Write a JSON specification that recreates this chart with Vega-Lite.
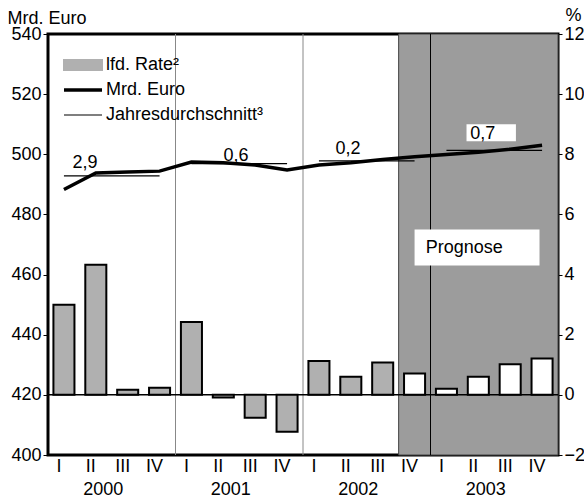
{
  "$schema": "https://vega.github.io/schema/vega-lite/v6.json",
  "width": 510,
  "height": 421,
  "autosize": "none",
  "padding": {"left": 48, "top": 34, "right": 26, "bottom": 43},
  "background": "white",
  "datasets": {
    "quarters": [
      {"q": "2000-I", "rate": 3.0, "mrd": 488.3, "prog": false},
      {"q": "2000-II", "rate": 4.33, "mrd": 493.8, "prog": false},
      {"q": "2000-III", "rate": 0.17, "mrd": 494.1, "prog": false},
      {"q": "2000-IV", "rate": 0.24, "mrd": 494.4, "prog": false},
      {"q": "2001-I", "rate": 2.42, "mrd": 497.4, "prog": false},
      {"q": "2001-II", "rate": -0.09, "mrd": 497.2, "prog": false},
      {"q": "2001-III", "rate": -0.76, "mrd": 496.4, "prog": false},
      {"q": "2001-IV", "rate": -1.23, "mrd": 494.8, "prog": false},
      {"q": "2002-I", "rate": 1.13, "mrd": 496.4, "prog": false},
      {"q": "2002-II", "rate": 0.6, "mrd": 497.2, "prog": false},
      {"q": "2002-III", "rate": 1.08, "mrd": 498.3, "prog": false},
      {"q": "2002-IV", "rate": 0.71, "mrd": 499.2, "prog": true},
      {"q": "2003-I", "rate": 0.2, "mrd": 499.9, "prog": true},
      {"q": "2003-II", "rate": 0.6, "mrd": 500.7, "prog": true},
      {"q": "2003-III", "rate": 1.02, "mrd": 501.7, "prog": true},
      {"q": "2003-IV", "rate": 1.21, "mrd": 503.0, "prog": true}
    ],
    "avg": [
      {"year": 2000, "start": "2000-I", "end": "2000-IV", "avg": 492.8, "label": "2,9"},
      {"year": 2001, "start": "2001-I", "end": "2001-IV", "avg": 496.9, "label": "0,6"},
      {"year": 2002, "start": "2002-I", "end": "2002-IV", "avg": 497.8, "label": "0,2"},
      {"year": 2003, "start": "2003-I", "end": "2003-IV", "avg": 501.3, "label": "0,7"}
    ]
  },
  "layer": [
    {
      "data": {"values": [{"from": "2002-IV", "to": "2003-IV", "lo": 400, "hi": 540}]},
      "mark": {"type": "rect", "color": "#9c9c9c", "stroke": "#444", "strokeWidth": 1},
      "encoding": {
        "x": {"field": "from", "type": "ordinal", "bandPosition": 0, "axis": null,
          "scale": {"type": "band", "paddingInner": 0, "paddingOuter": 0,
            "domain": ["2000-I","2000-II","2000-III","2000-IV","2001-I","2001-II","2001-III","2001-IV","2002-I","2002-II","2002-III","2002-IV","2003-I","2003-II","2003-III","2003-IV"]}},
        "x2": {"field": "to", "bandPosition": 1},
        "y": {"field": "lo", "type": "quantitative", "axis": null, "scale": {"domain": [400, 540], "nice": false, "zero": false}},
        "y2": {"field": "hi"}
      }
    },
    {
      "data": {"values": [{"q": "2001-I"}, {"q": "2002-I"}, {"q": "2003-I"}]},
      "mark": {"type": "rule", "strokeWidth": 1},
      "encoding": {
        "x": {"field": "q", "type": "ordinal", "bandPosition": 0, "axis": null},
        "color": {"condition": {"test": "datum.q === '2003-I'", "value": "black"}, "value": "#888"}
      }
    },
    {
      "data": {"values": [{"base": 420}]},
      "mark": {"type": "rule", "color": "black", "strokeWidth": 1.5},
      "encoding": {"y": {"field": "base", "type": "quantitative", "axis": null, "scale": {"domain": [400, 540], "nice": false, "zero": false}}}
    },
    {
      "data": {"values": [{"left": "2002-IV", "right": "2003-IV", "lo": 463, "hi": 475}]},
      "mark": {"type": "rect", "color": "white"},
      "encoding": {
        "x": {"field": "left", "type": "ordinal", "bandPosition": 0.5, "axis": null},
        "x2": {"field": "right", "bandPosition": 0.42},
        "y": {"field": "lo", "type": "quantitative", "axis": null, "scale": {"domain": [400, 540], "nice": false, "zero": false}},
        "y2": {"field": "hi"}
      }
    },
    {
      "data": {"values": [{"from": "2002-IV", "mid": 469, "text": "Prognose"}]},
      "mark": {"type": "text", "align": "left", "baseline": "middle", "fontSize": 18, "color": "black"},
      "encoding": {
        "x": {"field": "from", "type": "ordinal", "bandPosition": 0.85, "axis": null},
        "y": {"field": "mid", "type": "quantitative", "axis": null, "scale": {"domain": [400, 540], "nice": false, "zero": false}},
        "text": {"field": "text"}
      }
    },
    {
      "data": {"values": [{"b0": "2003-II", "bl": 504.3, "bh": 510}]},
      "mark": {"type": "rect", "color": "white"},
      "encoding": {
        "x": {"field": "b0", "type": "ordinal", "bandPosition": 0.13, "axis": null},
        "x2": {"field": "b0", "bandPosition": 1.68},
        "y": {"field": "bl", "type": "quantitative", "axis": null, "scale": {"domain": [400, 540], "nice": false, "zero": false}},
        "y2": {"field": "bh"}
      }
    },
    {
      "data": {"name": "avg"},
      "mark": {"type": "rule", "strokeWidth": 1.3},
      "encoding": {
        "x": {"field": "start", "type": "ordinal", "bandPosition": 0.5, "axis": null},
        "x2": {"field": "end", "bandPosition": 0.5},
        "y": {"field": "avg", "type": "quantitative", "axis": null, "scale": {"domain": [400, 540], "nice": false, "zero": false}},
        "color": {"datum": "Jahresdurchschnitt³", "type": "nominal"}
      }
    },
    {
      "data": {"name": "quarters"},
      "mark": {"type": "line", "strokeWidth": 3.5},
      "encoding": {
        "x": {"field": "q", "type": "ordinal",
          "axis": {"orient": "bottom", "labelExpr": "split(datum.value, '-')[1]", "ticks": false, "domain": false, "labelPadding": 2, "labelOffset": -5, "labelAngle": 0, "title": null}},
        "y": {"field": "mrd", "type": "quantitative", "scale": {"domain": [400, 540], "nice": false, "zero": false},
          "axis": {"orient": "left", "values": [400, 420, 440, 460, 480, 500, 520, 540], "tickSize": 5, "labelPadding": 2,
            "title": "Mrd. Euro", "titleAngle": 0, "titleAlign": "left", "titleBaseline": "alphabetic", "titleX": -41, "titleY": -11}},
        "color": {"datum": "Mrd. Euro", "type": "nominal",
          "scale": {"domain": ["lfd. Rate²", "Mrd. Euro", "Jahresdurchschnitt³"], "range": ["#b0b0b0", "black", "black"]},
          "legend": {
            "orient": "none", "legendX": 26, "legendY": 22, "title": null, "padding": 0,
            "symbolSize": 400, "labelOffset": 14, "labelFontSize": 18, "labelColor": "black", "rowPadding": 7, "labelLimit": 300,
            "symbolType": {"expr": "datum.value === 'lfd. Rate²' ? 'M-1.9,-0.5H1.9V0.5H-1.9Z' : 'M-1.9,0H1.9'"},
            "symbolFillColor": {"expr": "datum.value === 'lfd. Rate²' ? '#b0b0b0' : 'transparent'"},
            "symbolStrokeColor": "black",
            "symbolStrokeWidth": {"expr": "datum.value === 'Mrd. Euro' ? 3.5 : (datum.value === 'lfd. Rate²' ? 2 : 1.2)"},
            "symbolOpacity": 1
          }
        }
      }
    },
    {
      "data": {"name": "avg"},
      "transform": [{"filter": "datum.year === 2000"}],
      "mark": {"type": "text", "fontSize": 18, "baseline": "middle", "align": "center", "dx": 21, "dy": -12.6, "color": "black"},
      "encoding": {
        "x": {"field": "start", "type": "ordinal", "axis": null},
        "y": {"field": "avg", "type": "quantitative", "axis": null, "scale": {"domain": [400, 540], "nice": false, "zero": false}},
        "text": {"field": "label"}
      }
    },
    {
      "data": {"name": "avg"},
      "transform": [{"filter": "datum.year === 2001"}],
      "mark": {"type": "text", "fontSize": 18, "baseline": "middle", "align": "center", "dx": 44.6, "dy": -7.6, "color": "black"},
      "encoding": {
        "x": {"field": "start", "type": "ordinal", "axis": null},
        "y": {"field": "avg", "type": "quantitative", "axis": null, "scale": {"domain": [400, 540], "nice": false, "zero": false}},
        "text": {"field": "label"}
      }
    },
    {
      "data": {"name": "avg"},
      "transform": [{"filter": "datum.year === 2002"}],
      "mark": {"type": "text", "fontSize": 18, "baseline": "middle", "align": "center", "dx": 29, "dy": -12.3, "color": "black"},
      "encoding": {
        "x": {"field": "start", "type": "ordinal", "axis": null},
        "y": {"field": "avg", "type": "quantitative", "axis": null, "scale": {"domain": [400, 540], "nice": false, "zero": false}},
        "text": {"field": "label"}
      }
    },
    {
      "data": {"name": "avg"},
      "transform": [{"filter": "datum.year === 2003"}],
      "mark": {"type": "text", "fontSize": 18, "baseline": "middle", "align": "center", "dx": 36.4, "dy": -16, "color": "black"},
      "encoding": {
        "x": {"field": "start", "type": "ordinal", "axis": null},
        "y": {"field": "avg", "type": "quantitative", "axis": null, "scale": {"domain": [400, 540], "nice": false, "zero": false}},
        "text": {"field": "label"}
      }
    },
    {
      "data": {"name": "quarters"},
      "mark": {"type": "bar", "stroke": "black", "strokeWidth": 2, "width": {"band": 0.66}},
      "encoding": {
        "x": {"field": "q", "type": "ordinal",
          "axis": {"orient": "bottom", "values": ["2000-II", "2001-II", "2002-II", "2003-II"], "labelExpr": "slice(datum.value, 0, 4)",
            "labelOffset": 7.5, "labelPadding": 25, "ticks": false, "domain": false, "labelAngle": 0, "title": null}},
        "y": {"field": "rate", "type": "quantitative",
          "scale": {"domain": [-2, 12], "nice": false},
          "axis": {"orient": "right", "values": [-2, 0, 2, 4, 6, 8, 10, 12], "tickSize": 4, "labelPadding": 2,
            "title": "%", "titleAngle": 0, "titleAlign": "left", "titleBaseline": "alphabetic", "titleX": 7, "titleY": -14}},
        "color": {"datum": "lfd. Rate²", "type": "nominal", "condition": {"test": "datum.prog", "value": "white"}}
      }
    }
  ],
  "resolve": {"scale": {"y": "independent"}, "axis": {"x": "independent", "y": "independent"}},
  "config": {
    "font": "Liberation Sans",
    "view": {"stroke": "black", "strokeWidth": 3},
    "axis": {"labelFontSize": 18, "labelColor": "black", "titleFontSize": 18, "titleFontWeight": "normal", "titleColor": "black",
      "tickColor": "black", "domain": false, "grid": false},
    "text": {"font": "Liberation Sans"}
  }
}
